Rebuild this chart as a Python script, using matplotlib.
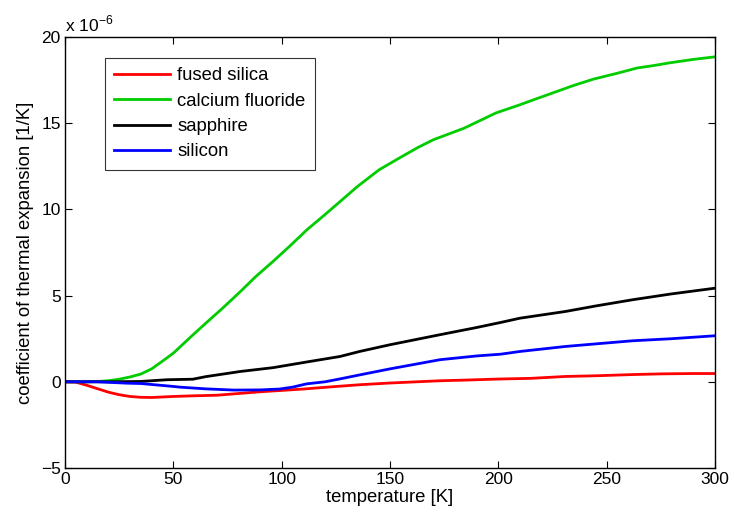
import matplotlib
matplotlib.use("Agg")
import matplotlib.pyplot as plt
import numpy as np

plt.rcParams['font.family'] = ['Liberation Sans', 'DejaVu Sans']

# temperature [K]
t_fs = [0, 5, 10, 15, 20, 25, 30, 35, 40, 50, 60, 70, 80, 90, 100, 110, 120, 136, 150, 173, 185, 200, 215, 231, 245, 262, 275, 290, 300]
fused_silica = [0, -0.02, -0.2, -0.4, -0.6, -0.75, -0.85, -0.9, -0.91, -0.85, -0.81, -0.78, -0.68, -0.58, -0.5, -0.42, -0.32, -0.17, -0.07, 0.06, 0.1, 0.16, 0.2, 0.31, 0.35, 0.42, 0.46, 0.48, 0.48]

t_cf = [0, 10, 15, 20, 25, 30, 35, 40, 45, 50, 58, 65, 73, 81, 88, 96, 104, 111.5, 120, 127, 135, 145, 155, 163, 170, 184, 199, 210, 215, 225, 235, 244, 255, 264, 272, 279, 290, 300]
calcium_fluoride = [0, 0, 0.02, 0.06, 0.15, 0.28, 0.45, 0.75, 1.2, 1.66, 2.6, 3.4, 4.3, 5.24, 6.1, 6.98, 7.9, 8.8, 9.7, 10.46, 11.33, 12.3, 13.03, 13.6, 14.04, 14.7, 15.6, 16.07, 16.3, 16.75, 17.2, 17.56, 17.9, 18.2, 18.35, 18.5, 18.7, 18.85]

t_sa = [0, 20, 35, 47, 59, 65, 81, 96, 113, 127, 136, 150, 173, 190, 201, 210, 231, 245, 262, 280, 300]
sapphire = [0, 0, 0.02, 0.12, 0.15, 0.3, 0.6, 0.82, 1.18, 1.47, 1.76, 2.15, 2.73, 3.15, 3.44, 3.69, 4.08, 4.4, 4.76, 5.1, 5.43]

t_si = [0, 15, 28.5, 35, 50, 53, 65, 78, 90, 99, 105, 111.5, 120, 127, 136, 150, 173, 190, 201, 210, 231, 245, 262, 280, 300]
silicon = [0, 0, -0.08, -0.1, -0.27, -0.31, -0.41, -0.48, -0.47, -0.42, -0.31, -0.12, 0.0, 0.17, 0.4, 0.75, 1.28, 1.5, 1.6, 1.76, 2.05, 2.2, 2.38, 2.5, 2.67]

labels = ['fused silica', 'calcium fluoride', 'sapphire', 'silicon']
colors = ['#ff0000', '#00cc00', '#000000', '#0000ff']

fig = plt.figure(figsize=(7.34, 5.21), dpi=100)
ax = fig.add_axes([65/734, (521-468)/521, 650/734, 431/521])

series = [(t_fs, fused_silica), (t_cf, calcium_fluoride), (t_sa, sapphire), (t_si, silicon)]
for (t, v), lab, c in zip(series, labels, colors):
    ax.plot(t, v, color=c, lw=2, label=lab)

ax.set_xlim(0, 300)
ax.set_ylim(-5, 20)
ax.set_xticks([0, 50, 100, 150, 200, 250, 300])
ax.set_yticks([-5, 0, 5, 10, 15, 20])
ax.set_yticklabels(['\u22125', '0', '5', '10', '15', '20'])
ax.tick_params(direction='in', top=True, right=True, labelsize=12.5, length=5, width=0.8, pad=3)
for s in ax.spines.values():
    s.set_linewidth(1.0)

ax.set_xlabel('temperature [K]', fontsize=13.3, labelpad=1)
ax.set_ylabel('coefficient of thermal expansion [1/K]', fontsize=13.3, labelpad=5)
ax.text(0.0, 1.005, 'x 10$^{\\mathregular{-6}}$', transform=ax.transAxes, fontsize=12.5, ha='left', va='bottom')

leg = ax.legend(loc='upper left', bbox_to_anchor=(0.0615, 0.951), fontsize=13.3, frameon=True,
                fancybox=False, edgecolor='black', handlelength=3.0, borderpad=0.5, labelspacing=0.45,
                handletextpad=0.4, borderaxespad=0.0)
leg.get_frame().set_linewidth(0.8)

fig.savefig('out.png', dpi=100)
